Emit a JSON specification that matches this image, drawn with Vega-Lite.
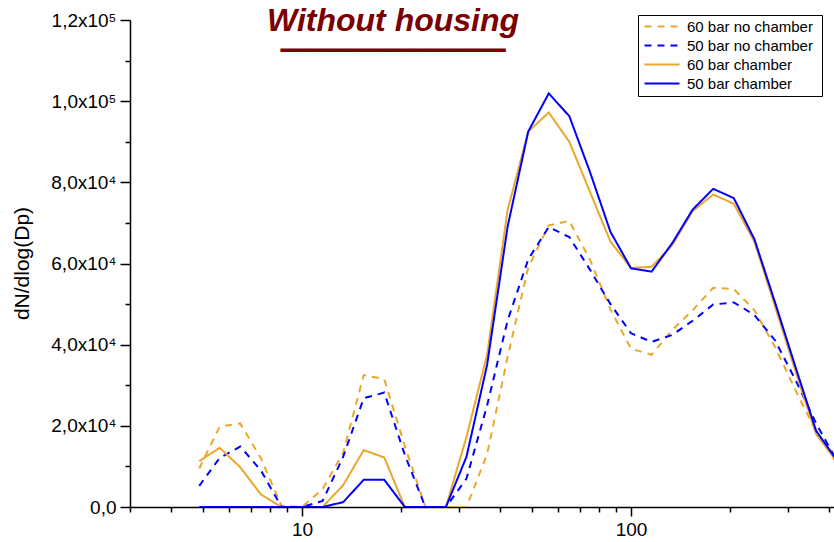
{
  "$schema": "https://vega.github.io/schema/vega-lite/v6.json",
  "width": 704,
  "height": 487,
  "autosize": {"type": "none"},
  "padding": {"left": 130, "top": 20, "right": 0, "bottom": 35},
  "background": "white",
  "config": {"font": "Liberation Sans", "view": {"stroke": null}},
  "title": {
    "text": "Without housing",
    "subtitle": "━━━━━━━━━━━━━━━━━",
    "anchor": "middle",
    "frame": "group",
    "font": "Liberation Sans",
    "fontSize": 32,
    "fontWeight": "bold",
    "fontStyle": "italic",
    "color": "#7b0000",
    "subtitleFont": "DejaVu Sans Mono",
    "subtitleFontSize": 22,
    "subtitleColor": "#7b0000",
    "subtitlePadding": 3,
    "offset": 0,
    "dx": -89,
    "dy": 52
  },
  "data": {
    "values": [
      {"series": "60 bar  no chamber", "dp": 4.87, "n": 9500},
      {"series": "60 bar  no chamber", "dp": 5.62, "n": 19800},
      {"series": "60 bar  no chamber", "dp": 6.49, "n": 20600},
      {"series": "60 bar  no chamber", "dp": 7.5, "n": 12000},
      {"series": "60 bar  no chamber", "dp": 8.66, "n": 300},
      {"series": "60 bar  no chamber", "dp": 10, "n": 0},
      {"series": "60 bar  no chamber", "dp": 11.55, "n": 4400},
      {"series": "60 bar  no chamber", "dp": 13.34, "n": 13400},
      {"series": "60 bar  no chamber", "dp": 15.4, "n": 32500},
      {"series": "60 bar  no chamber", "dp": 17.78, "n": 31500},
      {"series": "60 bar  no chamber", "dp": 20.54, "n": 15000},
      {"series": "60 bar  no chamber", "dp": 23.71, "n": 0},
      {"series": "60 bar  no chamber", "dp": 27.38, "n": 0},
      {"series": "60 bar  no chamber", "dp": 31.62, "n": 0},
      {"series": "60 bar  no chamber", "dp": 36.52, "n": 13000},
      {"series": "60 bar  no chamber", "dp": 42.17, "n": 37000},
      {"series": "60 bar  no chamber", "dp": 48.7, "n": 59000},
      {"series": "60 bar  no chamber", "dp": 56.23, "n": 69400},
      {"series": "60 bar  no chamber", "dp": 64.94, "n": 70500},
      {"series": "60 bar  no chamber", "dp": 74.99, "n": 61000},
      {"series": "60 bar  no chamber", "dp": 86.6, "n": 48700},
      {"series": "60 bar  no chamber", "dp": 100, "n": 39000},
      {"series": "60 bar  no chamber", "dp": 115.5, "n": 37500},
      {"series": "60 bar  no chamber", "dp": 133.4, "n": 43600},
      {"series": "60 bar  no chamber", "dp": 154, "n": 48500},
      {"series": "60 bar  no chamber", "dp": 177.8, "n": 54000},
      {"series": "60 bar  no chamber", "dp": 205.4, "n": 53700},
      {"series": "60 bar  no chamber", "dp": 237.1, "n": 48500},
      {"series": "60 bar  no chamber", "dp": 273.8, "n": 39500},
      {"series": "60 bar  no chamber", "dp": 316.2, "n": 28800},
      {"series": "60 bar  no chamber", "dp": 365.2, "n": 18600},
      {"series": "60 bar  no chamber", "dp": 421.7, "n": 10800},

      {"series": "50 bar  no chamber", "dp": 4.87, "n": 5200},
      {"series": "50 bar  no chamber", "dp": 5.62, "n": 12100},
      {"series": "50 bar  no chamber", "dp": 6.49, "n": 14900},
      {"series": "50 bar  no chamber", "dp": 7.5, "n": 9000},
      {"series": "50 bar  no chamber", "dp": 8.66, "n": 0},
      {"series": "50 bar  no chamber", "dp": 10, "n": 0},
      {"series": "50 bar  no chamber", "dp": 11.55, "n": 1500},
      {"series": "50 bar  no chamber", "dp": 13.34, "n": 12400},
      {"series": "50 bar  no chamber", "dp": 15.4, "n": 26800},
      {"series": "50 bar  no chamber", "dp": 17.78, "n": 28200},
      {"series": "50 bar  no chamber", "dp": 20.54, "n": 12800},
      {"series": "50 bar  no chamber", "dp": 23.71, "n": 0},
      {"series": "50 bar  no chamber", "dp": 27.38, "n": 0},
      {"series": "50 bar  no chamber", "dp": 31.62, "n": 7000},
      {"series": "50 bar  no chamber", "dp": 36.52, "n": 25000},
      {"series": "50 bar  no chamber", "dp": 42.17, "n": 46000},
      {"series": "50 bar  no chamber", "dp": 48.7, "n": 61000},
      {"series": "50 bar  no chamber", "dp": 56.23, "n": 69000},
      {"series": "50 bar  no chamber", "dp": 64.94, "n": 66500},
      {"series": "50 bar  no chamber", "dp": 74.99, "n": 58500},
      {"series": "50 bar  no chamber", "dp": 86.6, "n": 50000},
      {"series": "50 bar  no chamber", "dp": 100, "n": 42800},
      {"series": "50 bar  no chamber", "dp": 115.5, "n": 40700},
      {"series": "50 bar  no chamber", "dp": 133.4, "n": 42400},
      {"series": "50 bar  no chamber", "dp": 154, "n": 45900},
      {"series": "50 bar  no chamber", "dp": 177.8, "n": 49900},
      {"series": "50 bar  no chamber", "dp": 205.4, "n": 50400},
      {"series": "50 bar  no chamber", "dp": 237.1, "n": 47300},
      {"series": "50 bar  no chamber", "dp": 273.8, "n": 41100},
      {"series": "50 bar  no chamber", "dp": 316.2, "n": 31300},
      {"series": "50 bar  no chamber", "dp": 365.2, "n": 20600},
      {"series": "50 bar  no chamber", "dp": 421.7, "n": 11500},

      {"series": "60 bar chamber", "dp": 4.87, "n": 11300},
      {"series": "60 bar chamber", "dp": 5.62, "n": 14600},
      {"series": "60 bar chamber", "dp": 6.49, "n": 9800},
      {"series": "60 bar chamber", "dp": 7.5, "n": 3100},
      {"series": "60 bar chamber", "dp": 8.66, "n": 0},
      {"series": "60 bar chamber", "dp": 10, "n": 0},
      {"series": "60 bar chamber", "dp": 11.55, "n": 0},
      {"series": "60 bar chamber", "dp": 13.34, "n": 5400},
      {"series": "60 bar chamber", "dp": 15.4, "n": 14000},
      {"series": "60 bar chamber", "dp": 17.78, "n": 12200},
      {"series": "60 bar chamber", "dp": 20.54, "n": 0},
      {"series": "60 bar chamber", "dp": 23.71, "n": 0},
      {"series": "60 bar chamber", "dp": 27.38, "n": 0},
      {"series": "60 bar chamber", "dp": 31.62, "n": 17300},
      {"series": "60 bar chamber", "dp": 36.52, "n": 37500},
      {"series": "60 bar chamber", "dp": 42.17, "n": 73200},
      {"series": "60 bar chamber", "dp": 48.7, "n": 92500},
      {"series": "60 bar chamber", "dp": 56.23, "n": 97200},
      {"series": "60 bar chamber", "dp": 64.94, "n": 90000},
      {"series": "60 bar chamber", "dp": 74.99, "n": 77700},
      {"series": "60 bar chamber", "dp": 86.6, "n": 65400},
      {"series": "60 bar chamber", "dp": 100, "n": 58900},
      {"series": "60 bar chamber", "dp": 115.5, "n": 59200},
      {"series": "60 bar chamber", "dp": 133.4, "n": 64500},
      {"series": "60 bar chamber", "dp": 154, "n": 72900},
      {"series": "60 bar chamber", "dp": 177.8, "n": 77000},
      {"series": "60 bar chamber", "dp": 205.4, "n": 74700},
      {"series": "60 bar chamber", "dp": 237.1, "n": 65400},
      {"series": "60 bar chamber", "dp": 273.8, "n": 49500},
      {"series": "60 bar chamber", "dp": 316.2, "n": 33500},
      {"series": "60 bar chamber", "dp": 365.2, "n": 18000},
      {"series": "60 bar chamber", "dp": 421.7, "n": 11200},

      {"series": "50 bar chamber", "dp": 4.87, "n": 0},
      {"series": "50 bar chamber", "dp": 5.62, "n": 0},
      {"series": "50 bar chamber", "dp": 6.49, "n": 0},
      {"series": "50 bar chamber", "dp": 7.5, "n": 0},
      {"series": "50 bar chamber", "dp": 8.66, "n": 0},
      {"series": "50 bar chamber", "dp": 10, "n": 0},
      {"series": "50 bar chamber", "dp": 11.55, "n": 0},
      {"series": "50 bar chamber", "dp": 13.34, "n": 1200},
      {"series": "50 bar chamber", "dp": 15.4, "n": 6700},
      {"series": "50 bar chamber", "dp": 17.78, "n": 6700},
      {"series": "50 bar chamber", "dp": 20.54, "n": 0},
      {"series": "50 bar chamber", "dp": 23.71, "n": 0},
      {"series": "50 bar chamber", "dp": 27.38, "n": 0},
      {"series": "50 bar chamber", "dp": 31.62, "n": 12400},
      {"series": "50 bar chamber", "dp": 36.52, "n": 35000},
      {"series": "50 bar chamber", "dp": 42.17, "n": 69100},
      {"series": "50 bar chamber", "dp": 48.7, "n": 92500},
      {"series": "50 bar chamber", "dp": 56.23, "n": 101900},
      {"series": "50 bar chamber", "dp": 64.94, "n": 96300},
      {"series": "50 bar chamber", "dp": 74.99, "n": 82600},
      {"series": "50 bar chamber", "dp": 86.6, "n": 67800},
      {"series": "50 bar chamber", "dp": 100, "n": 58800},
      {"series": "50 bar chamber", "dp": 115.5, "n": 58000},
      {"series": "50 bar chamber", "dp": 133.4, "n": 65000},
      {"series": "50 bar chamber", "dp": 154, "n": 73300},
      {"series": "50 bar chamber", "dp": 177.8, "n": 78400},
      {"series": "50 bar chamber", "dp": 205.4, "n": 76100},
      {"series": "50 bar chamber", "dp": 237.1, "n": 66000},
      {"series": "50 bar chamber", "dp": 273.8, "n": 50500},
      {"series": "50 bar chamber", "dp": 316.2, "n": 34500},
      {"series": "50 bar chamber", "dp": 365.2, "n": 18800},
      {"series": "50 bar chamber", "dp": 421.7, "n": 11600}
    ]
  },
  "mark": {"type": "line", "strokeWidth": 2, "clip": true},
  "encoding": {
    "x": {
      "field": "dp",
      "type": "quantitative",
      "scale": {"type": "log", "domain": [3, 414], "nice": false},
      "axis": {
        "title": null,
        "grid": false,
        "values": [3, 4, 5, 6, 7, 8, 9, 10, 20, 30, 40, 50, 60, 70, 80, 90, 100, 200, 300, 400],
        "labelExpr": "datum.value == 10 ? '10' : datum.value == 100 ? '100' : ''",
        "tickSize": {"condition": {"test": "datum.value == 10 || datum.value == 100", "value": 9}, "value": 5},
        "tickColor": "black",
        "tickWidth": 1.5,
        "domainColor": "black",
        "domainWidth": 1.5,
        "labelFont": "Liberation Sans",
        "labelFontSize": 19,
        "labelColor": "black",
        "labelPadding": 4,
        "labelFlush": false,
        "labelOverlap": false
      }
    },
    "y": {
      "field": "n",
      "type": "quantitative",
      "scale": {"domain": [0, 120000], "nice": false},
      "axis": {
        "title": "dN/dlog(Dp)",
        "titleFont": "Liberation Sans",
        "titleFontSize": 21,
        "titleFontWeight": "normal",
        "titleColor": "black",
        "titleX": -108,
        "titleY": 243,
        "titleAngle": -90,
        "titleAlign": "center",
        "titleBaseline": "middle",
        "grid": false,
        "values": [0, 10000, 20000, 30000, 40000, 50000, 60000, 70000, 80000, 90000, 100000, 110000, 120000],
        "labelExpr": "datum.value == 0 ? '0,0' : datum.value % 20000 != 0 ? '' : datum.value < 100000 ? (datum.value / 10000) + ',0x10⁴' : replace(format(datum.value / 100000, '.1f'), '.', ',') + 'x10⁵'",
        "tickSize": {"condition": {"test": "datum.value % 20000 == 0", "value": 10}, "value": 5},
        "tickColor": "black",
        "tickWidth": 1.5,
        "domainColor": "black",
        "domainWidth": 1.5,
        "labelFont": "Liberation Sans",
        "labelFontSize": 19,
        "labelColor": "black",
        "labelPadding": 4,
        "labelFlush": false,
        "labelOverlap": false
      }
    },
    "color": {
      "field": "series",
      "type": "nominal",
      "scale": {
        "domain": ["60 bar  no chamber", "50 bar  no chamber", "60 bar chamber", "50 bar chamber"],
        "range": ["#eaa72c", "#0000ff", "#eaa72c", "#0000ff"]
      },
      "legend": {
        "title": null,
        "orient": "none",
        "legendX": 508,
        "legendY": -5,
        "direction": "vertical",
        "strokeColor": "black",
        "fillColor": "white",
        "padding": 4,
        "labelFont": "Liberation Sans",
        "labelFontSize": 15,
        "labelColor": "black",
        "labelLimit": 300,
        "labelOffset": 30,
        "symbolType": "M-1,0H6",
        "symbolSize": 100,
        "symbolStrokeWidth": 2,
        "rowPadding": 3
      }
    },
    "strokeDash": {
      "field": "series",
      "type": "nominal",
      "scale": {
        "domain": ["60 bar  no chamber", "50 bar  no chamber", "60 bar chamber", "50 bar chamber"],
        "range": [[7, 6], [7, 6], [1, 0], [1, 0]]
      },
      "legend": {
        "title": null,
        "orient": "none",
        "legendX": 508,
        "legendY": -5,
        "direction": "vertical",
        "strokeColor": "black",
        "fillColor": "white",
        "padding": 4,
        "labelFont": "Liberation Sans",
        "labelFontSize": 15,
        "labelColor": "black",
        "labelLimit": 300,
        "labelOffset": 30,
        "symbolType": "M-1,0H6",
        "symbolSize": 100,
        "symbolStrokeWidth": 2,
        "rowPadding": 3
      }
    }
  }
}
